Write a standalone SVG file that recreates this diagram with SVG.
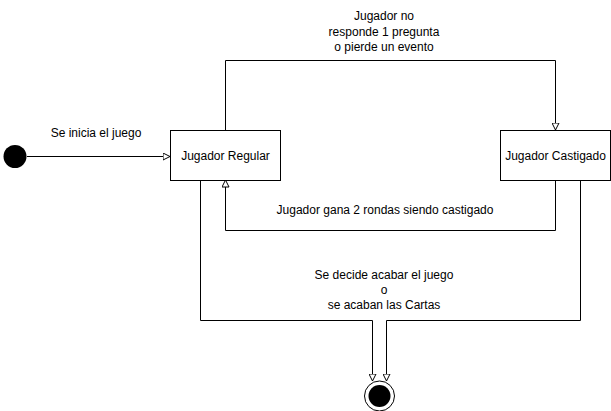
<svg xmlns="http://www.w3.org/2000/svg" width="611" height="411" viewBox="0 0 611 411">
<style>
.box{fill:#fff;stroke:#000;stroke-width:1}
.ln{fill:none;stroke:#000;stroke-width:1}
text{font-family:"Liberation Sans",Arial,sans-serif;font-size:12px;fill:#000;text-anchor:middle}
</style>
<defs>
<marker id="arr" viewBox="0 0 8 8" refX="7.5" refY="4" markerWidth="8" markerHeight="8" markerUnits="userSpaceOnUse" orient="auto">
<path d="M0.5,0.5 L7.5,4 L0.5,7.5 Z" fill="#fff" stroke="#000" stroke-width="1"/>
</marker>
</defs>
<rect width="611" height="411" fill="#fff"/>
<g id="connectors">
<path class="ln" d="M27,156.5 L170,156.5" marker-end="url(#arr)"/>
<path class="ln" d="M225.5,130 L225.5,60.5 L555.5,60.5 L555.5,130" marker-end="url(#arr)"/>
<path class="ln" d="M555.5,180 L555.5,230.5 L225.5,230.5 L225.5,180" marker-end="url(#arr)"/>
<path class="ln" d="M200.5,180 L200.5,320.5 L372.5,320.5 L372.5,381" marker-end="url(#arr)"/>
<path class="ln" d="M580.5,180 L580.5,320.5 L386.5,320.5 L386.5,381" marker-end="url(#arr)"/>
<text x="96" y="137">Se inicia el juego</text>
<text x="384" y="20">Jugador no</text>
<text x="384" y="36">responde 1 pregunta</text>
<text x="384" y="51">o pierde un evento</text>
<text x="385" y="214">Jugador gana 2 rondas siendo castigado</text>
<text x="384" y="279">Se decide acabar el juego</text>
<text x="384" y="294">o</text>
<text x="384" y="309">se acaban las Cartas</text>
</g>
<g id="start">
<circle cx="15" cy="156.5" r="11.5" fill="#000"/>
</g>
<g id="regular">
<rect class="box" x="170.5" y="130.5" width="110" height="50"/>
<text x="225.5" y="160">Jugador Regular</text>
</g>
<g id="castigado">
<rect class="box" x="500.5" y="130.5" width="110" height="50"/>
<text x="555.5" y="160">Jugador Castigado</text>
</g>
<g id="end">
<circle cx="379.5" cy="396" r="15" fill="#fff" stroke="#000" stroke-width="1"/>
<circle cx="379.5" cy="396" r="11" fill="#000"/>
</g>
</svg>
